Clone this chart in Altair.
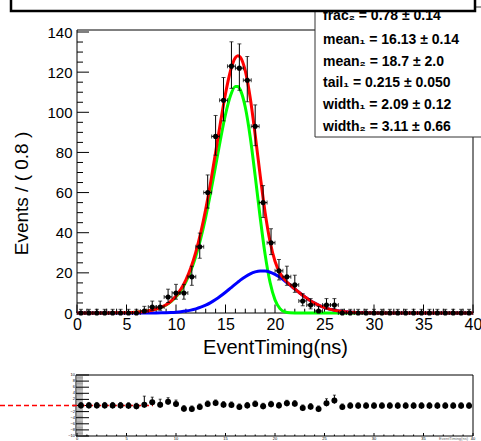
import altair as alt
import pandas as pd

# ---------------- data ----------------
bin_centers = [0.4, 1.2, 2.0, 2.8, 3.6, 4.4, 5.2, 6.0, 6.8, 7.6,
               8.4, 9.2, 10.0, 10.8, 11.6, 12.4, 13.2, 14.0, 14.8, 15.6,
               16.4, 17.2, 18.0, 18.8, 19.6, 20.4, 21.2, 22.0, 22.8, 23.6,
               24.4, 25.2, 26.0, 26.8, 27.6, 28.4, 29.2, 30.0, 30.8, 31.6,
               32.4, 33.2, 34.0, 34.8, 35.6, 36.4, 37.2, 38.0, 38.8, 39.6]
counts = [0, 0, 0, 0, 0, 0, 0, 0, 1, 3,
          3, 8, 10, 10, 18, 33, 60, 88, 106, 123,
          122, 116, 93, 55, 35, 21, 18, 14, 6, 4,
          1, 4, 4, 0, 0, 0, 0, 0, 0, 0,
          0, 0, 0, 0, 0, 0, 0, 0, 0, 0]
err_lo = [0, 0, 0, 0, 0, 0, 0, 0, 0.87, 1.66,
          1.66, 2.78, 3.12, 3.12, 4.21, 5.72, 7.73, 9.37, 10.28, 11.08,
          11.03, 10.76, 9.63, 7.40, 5.89, 4.55, 4.21, 3.71, 2.40, 1.94,
          0.87, 1.94, 1.94, 0, 0, 0, 0, 0, 0, 0,
          0, 0, 0, 0, 0, 0, 0, 0, 0, 0]
err_hi = [1.84, 1.84, 1.84, 1.84, 1.84, 1.84, 1.84, 1.84, 2.32, 2.94,
          2.94, 3.87, 4.28, 4.28, 5.33, 6.81, 8.79, 10.42, 11.33, 12.12,
          12.08, 11.81, 10.68, 8.47, 6.98, 5.67, 5.33, 4.84, 3.60, 3.18,
          2.32, 3.18, 3.18, 1.84, 1.84, 1.84, 1.84, 1.84, 1.84, 1.84,
          1.84, 1.84, 1.84, 1.84, 1.84, 1.84, 1.84, 1.84, 1.84, 1.84]
half_bin = 0.4

curve_x = [0, 1, 2, 3, 4, 5, 6, 7, 8, 8.5, 9, 9.5, 10, 10.5, 11, 11.5, 12, 12.5,
           13, 13.5, 14, 14.5, 15, 15.5, 16, 16.25, 16.5, 17, 17.5, 18, 18.5,
           19, 19.5, 20, 20.5, 21, 21.5, 22, 22.5, 23, 23.5, 24, 24.5, 25,
           25.5, 26, 27, 28, 29, 30, 32, 35, 40]
green_y = [0.003, 0.007, 0.015, 0.035, 0.08, 0.18, 0.41, 0.89, 1.91, 2.77, 3.99,
           5.70, 8.06, 11.27, 15.54, 21.14, 28.3, 37.2, 47.8, 60.0, 73.3, 86.7,
           98.9, 108.2, 112.8, 112.8, 111.1, 102.5, 87.6, 68.2, 47.7, 29.2, 15.3,
           6.55, 2.2, 0.54, 0.09, 0.01, 0, 0, 0, 0, 0, 0, 0, 0, 0, 0, 0, 0, 0, 0, 0]
blue_y = [0, 0, 0, 0, 0.0003, 0.0013, 0.005, 0.018, 0.056, 0.096, 0.162, 0.264,
          0.419, 0.649, 0.98, 1.44, 2.06, 2.88, 3.91, 5.19, 6.71, 8.45, 10.36,
          12.38, 14.42, 15.40, 16.36, 18.09, 19.49, 20.47, 20.96, 20.90, 20.32,
          19.24, 17.76, 15.97, 14.00, 11.96, 9.95, 8.06, 6.37, 4.91, 3.69, 2.70,
          1.93, 1.34, 0.60, 0.24, 0.087, 0.029, 0.002, 0, 0]
red_y = [0.003, 0.007, 0.015, 0.035, 0.08, 0.18, 0.42, 0.91, 1.97, 2.87, 4.15,
         5.96, 8.48, 11.92, 16.52, 22.58, 30.36, 40.08, 51.71, 65.19, 80.01,
         95.15, 109.26, 120.58, 127.22, 128.2, 127.46, 120.59, 107.09, 88.67,
         68.66, 50.10, 35.62, 25.79, 19.96, 16.51, 14.09, 11.97, 9.95, 8.06,
         6.37, 4.91, 3.69, 2.70, 1.93, 1.34, 0.60, 0.24, 0.087, 0.029, 0.002, 0, 0]

pulls = [0, 0, 0, 0, 0, 0, -0.1, -0.27, 0.27, 1.04,
         0.27, 1.26, 0.49, -1.04, -1.15, -0.49, 0.49, 0.82, 0.27, 0.16,
         -0.49, 0, 0.49, -0.27, 0.38, 0, 0.71, 0.6, -0.82, -0.38,
         -1.15, 0.71, 1.6, -0.49, -0.1, -0.1, -0.1, -0.1, -0.1, -0.1,
         -0.1, -0.1, -0.1, -0.1, -0.1, -0.1, -0.1, -0.1, -0.1, -0.1]
pull_err_hi = [1, 1, 1, 1, 1, 1, 1, 1, 2.8, 1.7,
               1.8, 1.3, 1.3, 1, 1, 1, 1, 1, 1, 1,
               1, 1, 1, 1, 1, 1, 1, 1, 1, 1,
               1, 1.5, 1.8, 1, 1, 1, 1, 1, 1, 1,
               1, 1, 1, 1, 1, 1, 1, 1, 1, 1]
pull_err_lo = [1] * 50

x_major = [0, 5, 10, 15, 20, 25, 30, 35, 40]
x_minor = [v for v in range(0, 41) if v % 5 != 0]
y_major = [0, 20, 40, 60, 80, 100, 120, 140]
y_minor = [v for v in range(0, 141, 5) if v % 20 != 0]
p_major = [-10, -8, -6, -4, -2, 0, 2, 4, 6, 8, 10]
p_minor = [round(-10 + 0.4 * k, 1) for k in range(51)]

stat_lines = ["frac₂ =  0.78 ± 0.14", "mean₁ =  16.13 ± 0.14", "mean₂ =  18.7 ± 2.0",
              "tail₁ =  0.215 ± 0.050", "width₁ =  2.09 ± 0.12", "width₂ =  3.11 ± 0.66"]
stat_rows_y = [-14, 10, 32, 53, 75, 97]

x_title = "EventTiming(ns)"
y_title = "Events / ( 0.8 )"

# ---------------- layout ----------------
W, H = 396, 283
FONT = "Liberation Sans"
PT, PB = 345, 406  # pull panel top/bottom relative to main plot top

xs = alt.Scale(domain=[0, 40], nice=False, zero=False)
ys = alt.Scale(domain=[0, 141], nice=False, zero=False)
ps = alt.Scale(domain=[-10, 10], range=[PB, PT], nice=False, zero=False)

AX = alt.Axis(
    values=x_major, format="d", domain=False, ticks=False, grid=False,
    labelFont=FONT, labelFontSize=16, labelColor="black", labelPadding=3,
    labelFlush=False, labelOverlap=False,
    title=x_title, titleFont=FONT, titleFontSize=20, titleFontWeight="normal",
    titleColor="black", titleX=W / 2, titleY=40, titleAlign="center",
    titleBaseline="alphabetic")
AY = alt.Axis(
    values=y_major, format="d", domain=False, ticks=False, grid=False,
    labelFont=FONT, labelFontSize=15, labelColor="black", labelPadding=5,
    labelFlush=False, labelOverlap=False,
    title=y_title, titleFont=FONT, titleFontSize=19, titleFontWeight="normal",
    titleColor="black", titleX=-50, titleY=163, titleAngle=270,
    titleAlign="center", titleBaseline="alphabetic")
AP = alt.Axis(
    orient="left", values=p_major, domain=False, ticks=False, grid=False,
    labels=False, title=None)

df = pd.DataFrame({"x": bin_centers, "n": counts})
df["lo"] = df["n"] - pd.Series(err_lo)
df["hi"] = df["n"] + pd.Series(err_hi)
df["xl"] = df["x"] - half_bin
df["xh"] = df["x"] + half_bin

dc = pd.DataFrame({"x": curve_x, "g": green_y, "b": blue_y, "r": red_y})

dp = pd.DataFrame({"x": bin_centers, "p": pulls})
dp["plo"] = dp["p"] - pd.Series(pull_err_lo)
dp["phi"] = dp["p"] + pd.Series(pull_err_hi)

one = pd.DataFrame({"a": [0]})

X = lambda f: alt.X(f, scale=xs, axis=AX)
Y = lambda f: alt.Y(f, scale=ys, axis=AY)
P = lambda f: alt.Y(f, scale=ps, axis=AP)

base = alt.Chart(df)

frame = alt.Chart(one).mark_rect(fill="transparent", stroke="black", strokeWidth=1).encode(
    x=alt.value(0), x2=alt.value(W), y=alt.value(0), y2=alt.value(H))

xt_major = alt.Chart(pd.DataFrame({"v": x_major})).mark_rule(color="black", strokeWidth=1).encode(
    x=X("v:Q"), y=alt.value(H), y2=alt.value(H - 8.5))
xt_minor = alt.Chart(pd.DataFrame({"v": x_minor})).mark_rule(color="black", strokeWidth=1).encode(
    x=X("v:Q"), y=alt.value(H), y2=alt.value(H - 4.3))
yt_major = alt.Chart(pd.DataFrame({"v": y_major})).mark_rule(color="black", strokeWidth=1).encode(
    y=Y("v:Q"), x=alt.value(0), x2=alt.value(12))
yt_minor = alt.Chart(pd.DataFrame({"v": y_minor})).mark_rule(color="black", strokeWidth=1).encode(
    y=Y("v:Q"), x=alt.value(0), x2=alt.value(6))

def curve(field, color):
    return alt.Chart(dc).mark_line(color=color, strokeWidth=3, interpolate="monotone").encode(
        x=X("x:Q"), y=Y(field + ":Q"), order="x:Q")

green = curve("g", "#00ff00")
blue = curve("b", "#0000ff")
red = curve("r", "#ff0000")

vbar = base.mark_rule(color="black", strokeWidth=1).encode(x=X("x:Q"), y=Y("lo:Q"), y2="hi:Q")
hbar = base.mark_rule(color="black", strokeWidth=1).encode(x=X("xl:Q"), x2="xh:Q", y=Y("n:Q"))
cap_hi = base.mark_tick(orient="horizontal", size=4, thickness=1, color="black").encode(x=X("x:Q"), y=Y("hi:Q"))
cap_lo = base.mark_tick(orient="horizontal", size=4, thickness=1, color="black").encode(x=X("x:Q"), y=Y("lo:Q"))
cap_l = base.mark_tick(orient="vertical", size=4, thickness=1, color="black").encode(x=X("xl:Q"), y=Y("n:Q"))
cap_r = base.mark_tick(orient="vertical", size=4, thickness=1, color="black").encode(x=X("xh:Q"), y=Y("n:Q"))
points = base.mark_circle(size=26, color="black", opacity=1).encode(x=X("x:Q"), y=Y("n:Q"))

# stat box and title box
stat_box = alt.Chart(one).mark_rect(fill="white", stroke="#333333", strokeWidth=1).encode(
    x=alt.value(238), x2=alt.value(430), y=alt.value(-23), y2=alt.value(107))
stat_texts = [
    alt.Chart(pd.DataFrame({"t": [s]})).mark_text(
        align="left", baseline="middle", font=FONT, fontSize=14, fontWeight="bold",
        color="black").encode(text="t:N", x=alt.value(246), y=alt.value(yy))
    for s, yy in zip(stat_lines, stat_rows_y)
]
title_box = alt.Chart(one).mark_rect(fill="white", stroke="black", strokeWidth=2.5).encode(
    x=alt.value(-66), x2=alt.value(398), y=alt.value(-50), y2=alt.value(-19))

main = alt.layer(frame, xt_minor, xt_major, yt_minor, yt_major,
                 green, blue, red, vbar, hbar, cap_hi, cap_lo, cap_l, cap_r, points,
                 stat_box, *stat_texts, title_box)

# pull panel
pbase = alt.Chart(dp)
pframe = alt.Chart(one).mark_rect(fill="transparent", stroke="black", strokeWidth=1).encode(
    x=alt.value(-1), x2=alt.value(W), y=alt.value(PT), y2=alt.value(PB))
pyt_minor = alt.Chart(pd.DataFrame({"v": p_minor})).mark_rule(color="#8a8a8a", strokeWidth=0.8).encode(
    y=P("v:Q"), x=alt.value(-1), x2=alt.value(6))
pyt_major = alt.Chart(pd.DataFrame({"v": p_major})).mark_rule(color="black", strokeWidth=1).encode(
    y=P("v:Q"), x=alt.value(-1), x2=alt.value(12))
pylab = alt.Chart(pd.DataFrame({"v": p_major})).mark_text(
    fontSize=4, font=FONT, color="black", align="right", baseline="middle").encode(
    y=P("v:Q"), x=alt.value(-2), text="v:Q")
pxt_major = alt.Chart(pd.DataFrame({"v": x_major})).mark_rule(color="black", strokeWidth=1).encode(
    x=X("v:Q"), y=alt.value(PB), y2=alt.value(PB - 3))
pxt_minor = alt.Chart(pd.DataFrame({"v": x_minor})).mark_rule(color="black", strokeWidth=1).encode(
    x=X("v:Q"), y=alt.value(PB), y2=alt.value(PB - 1.5))
pxlab = alt.Chart(pd.DataFrame({"v": x_major})).mark_text(
    fontSize=4, font=FONT, color="black", baseline="top").encode(
    x=X("v:Q"), y=alt.value(PB + 1), text="v:Q")
ptitle = alt.Chart(pd.DataFrame({"t": [x_title]})).mark_text(
    fontSize=4, font=FONT, color="#666666", align="right", baseline="top").encode(
    x=alt.value(W - 5), y=alt.value(PB + 1), text="t:N")
zero_line = alt.Chart(pd.DataFrame({"z": [0]})).mark_rule(
    color="#ff0000", strokeWidth=1.3, strokeDash=[5, 3]).encode(
    y=P("z:Q"), x=alt.value(-77), x2=alt.value(76))
pbar = pbase.mark_rule(color="black", strokeWidth=1).encode(x=X("x:Q"), y=P("plo:Q"), y2="phi:Q")
pcap = pbase.mark_tick(orient="horizontal", size=3, thickness=1, color="black").encode(x=X("x:Q"), y=P("phi:Q"))
ppoints = pbase.mark_circle(size=36, color="black", opacity=1).encode(x=X("x:Q"), y=P("p:Q"))

pull = alt.layer(pframe, pyt_minor, pyt_major, pylab, pxt_major, pxt_minor, pxlab, ptitle,
                 zero_line, pbar, pcap, ppoints)

chart = alt.layer(main, pull).resolve_scale(y="independent").properties(
    width=W, height=H,
    padding={"left": 77, "top": 30, "right": 8, "bottom": 128},
    autosize=alt.AutoSizeParams(type="none"),
    background="white",
).configure_view(stroke=None)

chart.save("out.html", embed_options={"renderer": "svg", "actions": False})
